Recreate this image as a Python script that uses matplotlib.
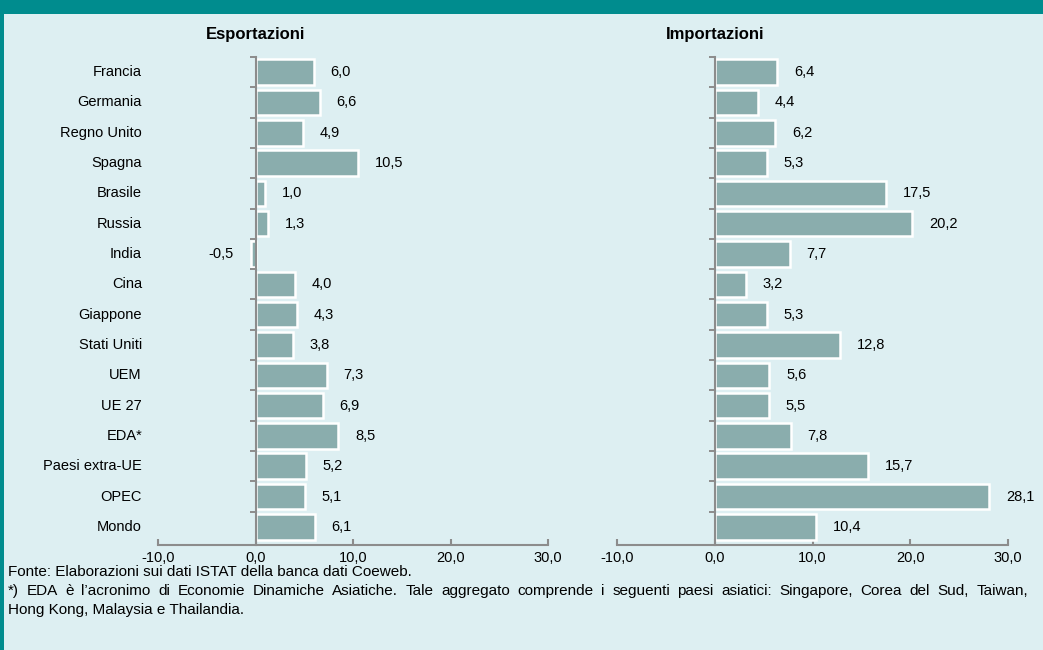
import matplotlib
matplotlib.use("Agg")
import matplotlib.pyplot as plt
from matplotlib.patches import Rectangle
import matplotlib.transforms as mtransforms

categories = ["Francia", "Germania", "Regno Unito", "Spagna", "Brasile", "Russia", "India",
              "Cina", "Giappone", "Stati Uniti", "UEM", "UE 27", "EDA*", "Paesi extra-UE",
              "OPEC", "Mondo"]
export_vals = [6.0, 6.6, 4.9, 10.5, 1.0, 1.3, -0.5, 4.0, 4.3, 3.8, 7.3, 6.9, 8.5, 5.2, 5.1, 6.1]
import_vals = [6.4, 4.4, 6.2, 5.3, 17.5, 20.2, 7.7, 3.2, 5.3, 12.8, 5.6, 5.5, 7.8, 15.7, 28.1, 10.4]
xticks = [-10, 0, 10, 20, 30]
xticklabels = ["-10,0", "0,0", "10,0", "20,0", "30,0"]
titles = ["Esportazioni", "Importazioni"]
notes = [
    "Fonte: Elaborazioni sui dati ISTAT della banca dati Coeweb.",
    "*) EDA è l’acronimo di Economie Dinamiche Asiatiche. Tale aggregato comprende i seguenti paesi asiatici: Singapore, Corea del Sud, Taiwan,",
    "Hong Kong, Malaysia e Thailandia.",
]
justified = [False, True, False]

plt.rcParams['font.family'] = ['Liberation Sans', 'DejaVu Sans']
BG = "#DDEFF2"
TEAL = "#008C8E"
BAR = "#8AADAD"
GREY = "#8C8C8C"

W, H = 1043, 650
fig = plt.figure(figsize=(W / 100, H / 100), dpi=100)
fig.patch.set_facecolor(BG)

# teal banner and left border
fig.add_artist(Rectangle((0, 1 - 14 / H), 1, 14 / H, transform=fig.transFigure,
                         facecolor=TEAL, edgecolor="none", zorder=0))
fig.add_artist(Rectangle((0, 0), 4 / W, 1, transform=fig.transFigure,
                         facecolor=TEAL, edgecolor="none", zorder=0))

bottom = 1 - 545 / H
top = 1 - 57 / H
panels = [(158 / W, 548 / W, export_vals, True), (617 / W, 1008 / W, import_vals, False)]
ypos = list(range(len(categories)))
n = len(categories)

for i, (x0, x1, vals, show_labels) in enumerate(panels):
    ax = fig.add_axes([x0, bottom, x1 - x0, top - bottom])
    ax.set_facecolor("none")
    ax.barh(ypos, vals, height=0.84, color=BAR, edgecolor="white", linewidth=1.8, zorder=3)
    ax.set_xlim(-10, 30)
    ax.set_ylim(n - 0.4, -0.5)
    for s in ["top", "right", "left"]:
        ax.spines[s].set_visible(False)
    ax.spines["bottom"].set_color(GREY)
    ax.spines["bottom"].set_linewidth(1.5)
    ax.set_xticks(xticks)
    ax.set_xticklabels(xticklabels, fontsize=10.5)
    ax.tick_params(axis="x", colors=GREY, direction="in", length=4, width=1.5,
                   labelcolor="black", pad=4)
    ax.set_yticks([])
    # vertical axis at zero with tick marks at category boundaries
    ax.plot([0, 0], [n - 0.4, -0.5], color=GREY, lw=1.5, zorder=4, clip_on=False)
    for k in range(n):
        b = k - 0.5
        ax.plot([0, 0], [b, b], marker=0, markersize=4, color=GREY, mew=1.2, clip_on=False, zorder=4)
    for y, v in zip(ypos, vals):
        lab = f"{v:.1f}".replace(".", ",")
        if v >= 0:
            ax.annotate(lab, xy=(v, y), xytext=(12, 0), textcoords="offset points",
                        ha="left", va="center", fontsize=10.5)
        else:
            ax.annotate(lab, xy=(v, y), xytext=(-12, 0), textcoords="offset points",
                        ha="right", va="center", fontsize=10.5)
    if show_labels:
        tr = mtransforms.blended_transform_factory(ax.transAxes, ax.transData)
        for y, c in zip(ypos, categories):
            ax.text(-16 / ((x1 - x0) * W), y, c, transform=tr, ha="right", va="center", fontsize=10.5)
    ax.text(0, 1.047, titles[i], transform=mtransforms.blended_transform_factory(ax.transData, ax.transAxes),
            ha="center", va="center", fontsize=12, fontweight="bold")

# footnotes (second line justified to full width, as in the reference)
renderer = fig.canvas.get_renderer()
left_px, right_px = 8, 1028
FS = 11
for j, t in enumerate(notes):
    yf = 1 - (572 + j * 19) / H
    if not justified[j]:
        fig.text(left_px / W, yf, t, ha="left", va="center", fontsize=FS)
        continue
    words = t.split(" ")
    arts = [fig.text(0, yf, w, ha="left", va="center", fontsize=FS) for w in words]
    widths = [a.get_window_extent(renderer).width for a in arts]
    gap = ((right_px - left_px) - sum(widths)) / (len(words) - 1)
    xcur = left_px
    for a, wd in zip(arts, widths):
        a.set_x(xcur / W)
        xcur += wd + gap

fig.savefig("out.png", dpi=100, facecolor=BG)
